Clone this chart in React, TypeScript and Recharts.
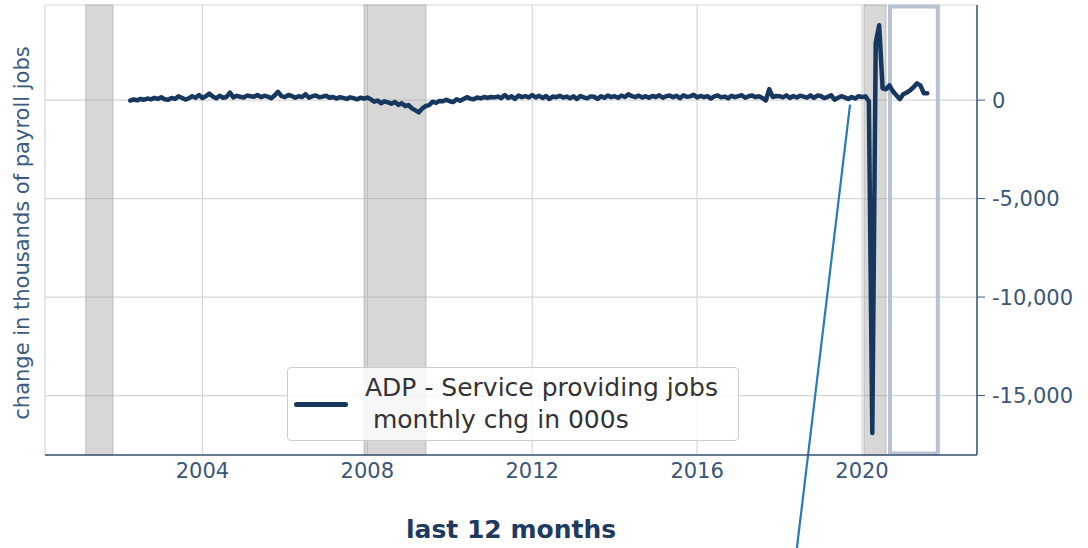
import {
  CartesianGrid,
  Legend,
  Line,
  LineChart,
  ReferenceArea,
  ReferenceLine,
  XAxis,
  YAxis,
} from 'recharts';

// ADP service providing jobs, monthly change in 000s (Apr 2002 .. Aug 2021)
const y2002 = [-20, 30, -10, 60, 20, 80, 40, 110, 60];
const y2003 = [150, 40, 20, 110, 60, 190, 120, 30, 90, 200, 120, 260];
const y2004 = [110, 200, 330, 180, 90, 220, 120, 160, 380, 140, 220, 170];
const y2005 = [130, 230, 200, 170, 260, 150, 220, 180, 90, 230, 420, 200];
const y2006 = [150, 260, 210, 120, 200, 150, 300, 120, 200, 230, 140, 180];
const y2007 = [220, 120, 160, 80, 150, 110, 60, 140, 100, 40, 120, 80];
const y2008 = [130, 40, -80, -20, -160, -60, -120, -180, -90, -240, -160, -300];
const y2009 = [-250, -420, -520, -620, -420, -300, -250, -80, -140, -40, -60, 20];
const y2010 = [-60, -100, 40, -30, 60, 150, 70, 40, 130, 90, 160, 110];
const y2011 = [160, 140, 180, 100, 260, 110, 190, 60, 230, 150, 200, 140];
const y2012 = [260, 130, 220, 110, 210, 60, 180, 150, 220, 130, 180, 90];
const y2013 = [190, 60, 210, 140, 90, 190, 170, 60, 200, 120, 230, 150];
const y2014 = [200, 120, 230, 160, 300, 200, 150, 230, 130, 200, 120, 210];
const y2015 = [160, 240, 120, 200, 230, 150, 220, 100, 240, 170, 190, 270];
const y2016 = [140, 210, 150, 200, 80, 190, 240, 140, 180, 90, 220, 150];
const y2017 = [200, 250, 120, 200, 240, 150, 200, 110, -20, 560, 160, 210];
const y2018 = [200, 140, 240, 110, 210, 130, 220, 180, 130, 240, 110, 230];
const y2019 = [210, 100, 160, 250, 20, 120, 200, 140, 60, 160, 80, 200];
const y2020 = [160, 190, -60, -16900, 2900, 3800, 600, 550, 750, 450, 250, 50];
const y2021 = [300, 380, 500, 650, 850, 750, 350, 350];

// [year, first month, values]
const yearRows: [number, number, number[]][] = [
  [2002, 4, y2002], [2003, 1, y2003], [2004, 1, y2004], [2005, 1, y2005],
  [2006, 1, y2006], [2007, 1, y2007], [2008, 1, y2008], [2009, 1, y2009],
  [2010, 1, y2010], [2011, 1, y2011], [2012, 1, y2012], [2013, 1, y2013],
  [2014, 1, y2014], [2015, 1, y2015], [2016, 1, y2016], [2017, 1, y2017],
  [2018, 1, y2018], [2019, 1, y2019], [2020, 1, y2020], [2021, 1, y2021],
];

const yearTicks = [2004, 2008, 2012, 2016, 2020];
const valueTicks = [0, -5000, -10000, -15000];

// recessions, in fractional years
const recessionStarts = [2001.17, 2007.92, 2020.05];
const recessionEnds = [2001.83, 2009.42, 2020.58];

// last 12 months box
const lastYearWindow = [2020.68, 2021.84];
// annotation arrow: [year, value] start and end
const arrowStart = [2019.71, -230];
const arrowEnd = [2018.42, -22760];

const data = yearRows.flatMap(([yr, m0, vals]) =>
  vals.map((v, i) => ({ t: yr + (m0 - 1 + i) / 12, jobs: v }))
);

const NAVY = '#17375e';
const AXIS = '#3b5578';
const FONT = '"DejaVu Sans", sans-serif';

function LegendBox() {
  return (
    <div
      style={{
        width: 452,
        height: 74,
        border: '1px solid #cccccc',
        borderRadius: 4,
        background: 'rgba(255,255,255,0.8)',
        display: 'flex',
        alignItems: 'center',
        fontFamily: FONT,
        color: '#333333',
        fontSize: 25,
        lineHeight: '32px',
        boxSizing: 'border-box',
      }}
    >
      <div style={{ width: 54, height: 5, background: NAVY, borderRadius: 3, marginLeft: 6, marginRight: 17 }} />
      <div style={{ whiteSpace: 'pre' }}>
        {'ADP - Service providing jobs\n monthly chg in 000s'}
      </div>
    </div>
  );
}

export default function App() {
  return (
    <div style={{ position: 'absolute', left: 0, top: 0, width: 1088, height: 548, background: '#fff' }}>
      <LineChart
        width={1088}
        height={548}
        data={data}
        margin={{ top: 5, right: 0, bottom: 0, left: 45 }}
        style={{ fontFamily: FONT }}
      >
        <CartesianGrid stroke="#d6d6d6" strokeWidth={1.2} />
        <XAxis
          dataKey="t"
          type="number"
          domain={[2000.18, 2022.79]}
          ticks={yearTicks}
          height={93}
          tickLine={false}
          axisLine={{ stroke: AXIS, strokeWidth: 1.5 }}
          tick={{ fill: AXIS, fontSize: 21 }}
          allowDataOverflow
        />
        <YAxis
          orientation="right"
          type="number"
          domain={[-18020, 4830]}
          ticks={valueTicks}
          width={111}
          tickSize={8}
          tickMargin={7}
          tickLine={{ stroke: AXIS }}
          axisLine={{ stroke: AXIS, strokeWidth: 1.5 }}
          tick={{ fill: AXIS, fontSize: 21, textAnchor: 'start' }}
          tickFormatter={(v: number) => v.toLocaleString('en-US')}
          allowDataOverflow
        />
        {recessionStarts.map((s, i) => (
          <ReferenceArea
            key={s}
            x1={s}
            x2={recessionEnds[i]}
            fill="#a0a0a0"
            fillOpacity={0.42}
            stroke="#b0b0b0"
            strokeOpacity={0.8}
          />
        ))}
        <Line
          type="linear"
          dataKey="jobs"
          stroke={NAVY}
          strokeWidth={4.5}
          strokeLinejoin="round"
          strokeLinecap="round"
          dot={false}
          isAnimationActive={false}
        />
        <ReferenceArea
          x1={lastYearWindow[0]}
          x2={lastYearWindow[1]}
          y1={-17950}
          y2={4750}
          fill="none"
          fillOpacity={0}
          stroke="#b8c2d3"
          strokeWidth={4}
        />
        <ReferenceLine
          segment={[
            { x: arrowStart[0], y: arrowStart[1] },
            { x: arrowEnd[0], y: arrowEnd[1] },
          ]}
          stroke="#2a7ab8"
          strokeWidth={2.2}
          ifOverflow="visible"
        />
        <Legend
          layout="horizontal"
          verticalAlign="middle"
          align="center"
          content={() => <LegendBox />}
          wrapperStyle={{ left: 287, top: 367, width: 452, height: 74 }}
        />
      </LineChart>
      <div
        style={{
          position: 'absolute',
          left: 22,
          top: 233,
          transform: 'translate(-50%, -50%) rotate(-90deg)',
          whiteSpace: 'nowrap',
          fontFamily: FONT,
          fontSize: 21,
          color: '#3b5a80',
        }}
      >
        change in thousands of payroll jobs
      </div>
      <div
        style={{
          position: 'absolute',
          left: 511,
          top: 529,
          transform: 'translate(-50%, -50%)',
          whiteSpace: 'nowrap',
          fontFamily: FONT,
          fontWeight: 'bold',
          fontSize: 25,
          color: '#1f3a5f',
        }}
      >
        last 12 months
      </div>
    </div>
  );
}
